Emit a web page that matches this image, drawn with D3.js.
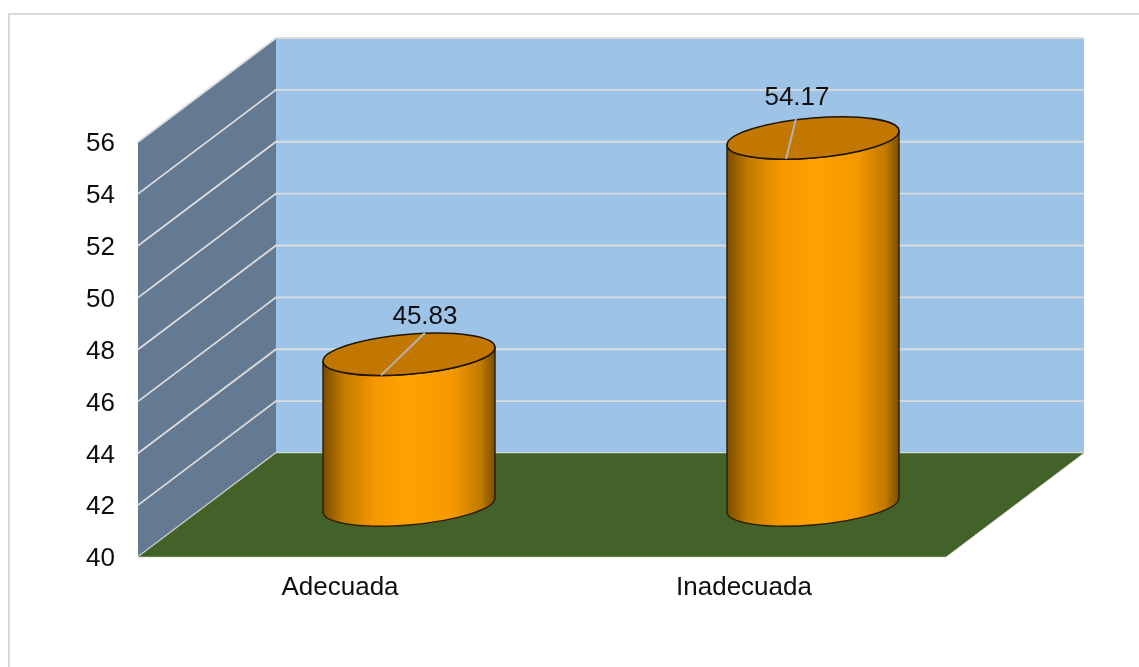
<!DOCTYPE html>
<html><head><meta charset="utf-8">
<script src="https://cdnjs.cloudflare.com/ajax/libs/d3/7.8.5/d3.min.js"></script>
<style>html,body{margin:0;padding:0;background:#fff}svg{display:block}text{font-family:"Liberation Sans",Arial,sans-serif;fill:#111}</style>
</head><body><script>
const categories = ["Adecuada","Inadecuada"];
const values = [45.83,54.17];
const tickValues = [40,42,44,46,48,50,52,54,56];
const W=1139,H=667;
const depth={dx:138,dy:-104};
const x=d3.scaleBand().domain(categories).range([138,946]);
const y=d3.scaleLinear().domain([40,56]).range([557,142]);
const svg=d3.select("body").append("svg").attr("width",W).attr("height",H);
const defs=svg.append("defs");
const grad=defs.append("linearGradient").attr("id","cyl").attr("x1",0).attr("x2",1).attr("y1",0).attr("y2",0);
[[0,"#7a4c00"],[0.12,"#c27a00"],[0.3,"#f59700"],[0.5,"#ffa200"],[0.75,"#f59900"],[0.92,"#c07a00"],[1,"#7a4e00"]]
 .forEach(s=>grad.append("stop").attr("offset",s[0]).attr("stop-color",s[1]));
const blur=defs.append("filter").attr("id","soft");blur.append("feGaussianBlur").attr("stdDeviation",0.45);

// frame
svg.append("rect").attr("x",9).attr("y",14).attr("width",W+20).attr("height",H+20).attr("fill","#fff").attr("stroke","#d9d9d9").attr("stroke-width",2);

const root=svg.append("g").attr("filter","url(#soft)");
const [x0,x1]=x.range(),yB=y(40),yT=y(56);
const pts=a=>a.map(p=>p.join(",")).join(" ");
// back wall
root.append("polygon").attr("points",pts([[x0+depth.dx,yT+depth.dy],[x1+depth.dx,yT+depth.dy],[x1+depth.dx,yB+depth.dy],[x0+depth.dx,yB+depth.dy]])).attr("fill","#9dc3e6");
// side wall
root.append("polygon").attr("points",pts([[x0,yT],[x0+depth.dx,yT+depth.dy],[x0+depth.dx,yB+depth.dy],[x0,yB]])).attr("fill","#647a92");
// grid
tickValues.forEach(t=>{
  root.append("polyline").attr("fill","none").attr("stroke","#dcdcdc").attr("stroke-width",1.8)
   .attr("points",pts([[x0,y(t)],[x0+depth.dx,y(t)+depth.dy],[x1+depth.dx,y(t)+depth.dy]]));
});
// floor
root.append("polygon").attr("points",pts([[x0,yB],[x0+depth.dx,yB+depth.dy],[x1+depth.dx,yB+depth.dy],[x1,yB]])).attr("fill","#42622a").attr("stroke","#c9d3c0").attr("stroke-width",0.6);

// cylinders
const rx=86, ry=20, skew=-7/86;
const cylinders=root.selectAll("g.cyl").data(categories.map((c,i)=>({c,v:values[i]}))).join("g").attr("class","cyl")
 .attr("transform",d=>`translate(${x(d.c)+x.bandwidth()/2+depth.dx/2},0) matrix(1,${skew},0,1,0,0)`);
cylinders.append("path")
 .attr("d",d=>{const yt=y(d.v)+depth.dy/2+0.5,yb=y(40)+depth.dy/2;
   return `M${-rx},${yt} L${-rx},${yb} A${rx},${ry} 0 0 0 ${rx},${yb} L${rx},${yt} A${rx},${ry} 0 0 1 ${-rx},${yt} Z`;})
 .attr("fill","url(#cyl)").attr("stroke","#2b1c00").attr("stroke-width",1.4);
cylinders.append("ellipse").attr("cx",0).attr("cy",d=>y(d.v)+depth.dy/2+0.5).attr("rx",rx).attr("ry",ry)
 .attr("fill","#c27700").attr("stroke","#1d1300").attr("stroke-width",1.6);

// labels & leaders
const lab=root.selectAll("g.lab").data(categories.map((c,i)=>({c,v:values[i],
   cx:x(c)+x.bandwidth()/2+depth.dx/2, cy:y(values[i])+depth.dy/2}))).join("g").attr("class","lab");
lab.append("line").attr("x1",(d,i)=>d.cx+(i===0?-28:-27)).attr("y1",d=>d.cy+21.5)
  .attr("x2",(d,i)=>i===0?d.cx+16:d.cx-17).attr("y2",(d,i)=>i===0?d.cy-21:d.cy-19)
  .attr("stroke","#b5b5b5").attr("stroke-width",1.9);
lab.append("text").attr("x",(d,i)=>i===0?d.cx+16:d.cx-16).attr("y",(d,i)=>i===0?d.cy-30:d.cy-32)
  .attr("text-anchor","middle").attr("font-size",26).text(d=>d.v.toFixed(2));

// axes
const ax=root.append("g").attr("transform",`translate(${x0},0)`)
  .call(d3.axisLeft(y).tickValues(tickValues).tickSize(0).tickPadding(23));
ax.select(".domain").remove();
ax.selectAll("text").attr("font-size",26).attr("font-family",'"Liberation Sans",Arial,sans-serif').attr("fill","#111").attr("dy","0.34em");
const bx=root.append("g").attr("transform",`translate(0,${yB})`)
  .call(d3.axisBottom(x).tickSize(0).tickPadding(20));
bx.select(".domain").remove();
bx.selectAll("text").attr("font-size",26).attr("font-family",'"Liberation Sans",Arial,sans-serif').attr("fill","#111");
</script></body></html>
